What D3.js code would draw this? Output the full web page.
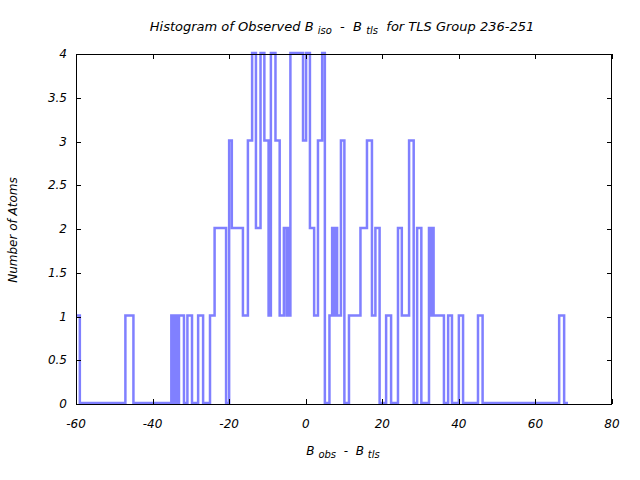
<!DOCTYPE html>
<html><head><meta charset="utf-8">
<script src="https://cdn.jsdelivr.net/npm/d3@7"></script>
<style>
body{margin:0;background:#fff;}
text{font-family:"DejaVu Sans",sans-serif;font-style:italic;font-size:12px;fill:#000;white-space:pre;}
</style></head>
<body><svg id="c" width="640" height="480"></svg>
<script>
// Step edges (B_obs - B_tls) and the atom count that starts at each edge
const edgeX = [-60,-59,-47.1,-45,-35.1,-34.5,-34.3,-33.75,-33.1,-31.8,-30.9,-29.7,-28.1,-26.8,-25.0,-23.8,-20.8,-20.0,-19.3,-16.4,-15.1,-14.0,-13.0,-11.8,-10.8,-9.7,-9.1,-7.9,-6.8,-5.7,-5.0,-4.8,-4.4,-4.0,-0.7,0.1,1.1,2.2,3.2,4.3,5.0,6.2,6.9,7.4,7.6,8.2,9.2,10.1,11.3,14.3,16.0,17.3,18.2,19.3,21.0,22.3,24.1,25.1,27.0,28.2,29.1,30.2,32.2,32.7,33.0,33.4,36.1,37.2,38.2,40.0,41.1,45.0,46.2,66.2,67.5,68.5];
const counts = [1,0,1,0,1,0,1,0,1,0,1,0,1,0,1,2,0,3,2,1,3,4,2,4,3,1,4,3,1,2,1,2,1,4,3,4,2,1,3,4,0,1,2,1,2,1,3,0,1,2,3,1,2,0,1,0,2,1,3,0,2,0,2,1,2,1,0,1,0,1,0,1,0,1,0,0];
const xTicks = [-60,-40,-20,0,20,40,60,80];
const yTicks = [0,0.5,1,1.5,2,2.5,3,3.5,4];
const yTickLabels = ["0","0.5","1","1.5","2","2.5","3","3.5","4"];

const svg = d3.select("#c");
const L=76,R=612,T=54,B=404;
const x = d3.scaleLinear().domain([-60,80]).range([L,R]);
const y = d3.scaleLinear().domain([0,4]).range([B,T]);

const pts = edgeX.map((v,i)=>[v,counts[i]]);
const line = d3.line().x(d=>x(d[0])).y(d=>y(d[1])-1).curve(d3.curveStepAfter);

svg.append("path").datum(pts).attr("d",line)
  .attr("fill","none").attr("stroke","#8080ff").attr("stroke-width",2.5);

// frame
svg.append("rect").attr("x",L+0.5).attr("y",T+0.5).attr("width",R-L-1).attr("height",B-T)
  .attr("fill","none").attr("stroke","#000").attr("stroke-width",1);

// ticks
const g = svg.append("g").attr("stroke","#000").attr("stroke-width",1);
xTicks.forEach(t=>{
  const px=Math.round(x(t))+0.5;
  g.append("line").attr("x1",px).attr("x2",px).attr("y1",B).attr("y2",B-5);
  g.append("line").attr("x1",px).attr("x2",px).attr("y1",T).attr("y2",T+5);
});
yTicks.forEach(t=>{
  const py=Math.round(y(t))+0.5;
  g.append("line").attr("x1",L).attr("x2",L+5).attr("y1",py).attr("y2",py);
  g.append("line").attr("x1",R).attr("x2",R-5).attr("y1",py).attr("y2",py);
});
xTicks.forEach(t=>{
  svg.append("text").attr("x",x(t)).attr("y",428).attr("text-anchor","middle").text(t);
});
yTicks.forEach((t,i)=>{
  svg.append("text").attr("x",67).attr("y",y(t)+4).attr("text-anchor","end").text(yTickLabels[i]);
});

// title
const title = svg.append("text").attr("x",342).attr("y",31).attr("text-anchor","middle").style("font-size","13px");
title.append("tspan").text("Histogram of Observed B ");
title.append("tspan").attr("dy",3).attr("font-size",10).text("iso");
title.append("tspan").attr("dy",-3).text("  -  B ");
title.append("tspan").attr("dy",3).attr("font-size",10).text("tls");
title.append("tspan").attr("dy",-3).text("  for TLS Group 236-251");

// x label
const xl = svg.append("text").attr("x",343).attr("y",455).attr("text-anchor","middle");
xl.append("tspan").text("B ");
xl.append("tspan").attr("dy",3).attr("font-size",10).text("obs");
xl.append("tspan").attr("dy",-3).text("  -  B ");
xl.append("tspan").attr("dy",3).attr("font-size",10).text("tls");

// y label
svg.append("text").attr("transform","translate(17,230) rotate(-90)").attr("text-anchor","middle").text("Number of Atoms");
</script></body></html>
